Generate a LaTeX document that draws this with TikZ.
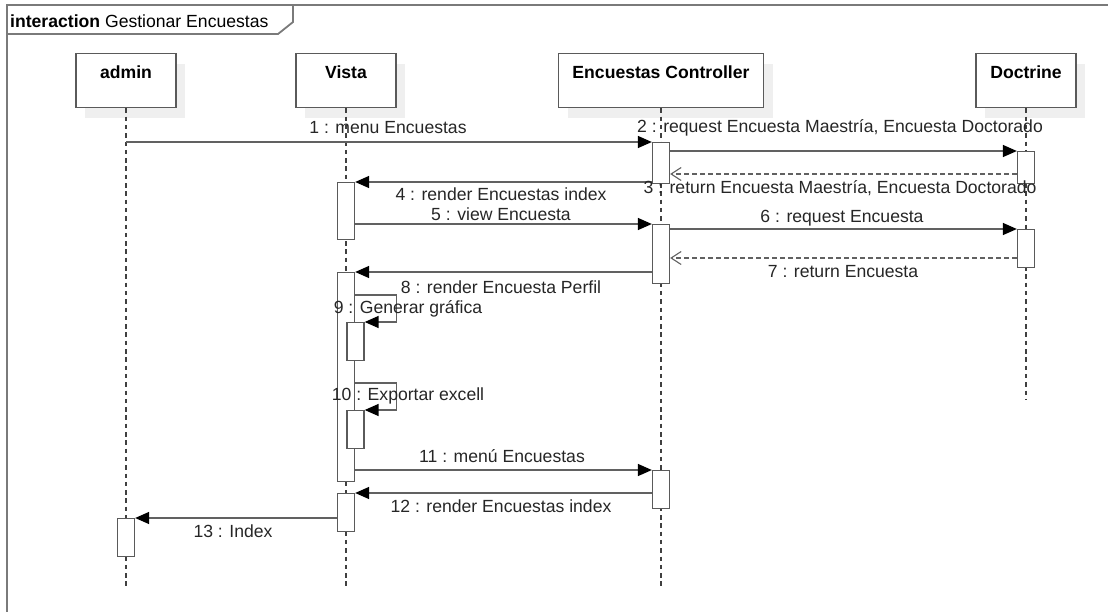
\documentclass[tikz,border=0pt]{standalone}
\usepackage{fontspec}
\setmainfont{Liberation Sans}
\usetikzlibrary{arrows.meta,shadows,calc}

\definecolor{framegray}{HTML}{7A7A7A}
\definecolor{boxgray}{HTML}{5A5A5A}
\definecolor{msggray}{HTML}{616161}
\definecolor{txtgray}{HTML}{262626}
\definecolor{shadowgray}{HTML}{EFEFEF}

\tikzset{
  frameline/.style={draw=framegray, line width=1.8pt},
  head/.style={draw=boxgray, fill=white, line width=1.3pt, anchor=north,
    minimum height=54pt, inner xsep=0pt, inner ysep=7pt,
    text height=18pt, text depth=22pt, font=\fontsize{17.6}{20}\selectfont\bfseries,
    drop shadow={shadow xshift=9pt, shadow yshift=-10pt, fill=shadowgray, opacity=1}},
  lifeline/.style={draw=black!75, line width=1.4pt, dash pattern=on 4.5pt off 3.8pt},
  act/.style={draw=boxgray, fill=white, line width=1.3pt, anchor=north,
    minimum width=17pt, inner sep=0pt},
  msg/.style={draw=msggray, line width=1.4pt,
    -{Triangle[length=14pt, width=12pt, color=black]}},
  ret/.style={draw=msggray, line width=1.3pt, dash pattern=on 4.5pt off 3.5pt,
    -{Straight Barb[length=10pt, width=13pt, line width=1.1pt]}},
  lbl/.style={anchor=base, inner sep=0pt, text=txtgray,
    font=\fontsize{17.6}{20}\selectfont}
}

\begin{document}
\begin{tikzpicture}[x=1pt, y=-1pt]
  \useasboundingbox (0,0) rectangle (1108,611);

  % interaction frame with its name tab
  \draw[frameline] (1125,5) -- (7,5) -- (7,625);
  \draw[frameline] (7,34) -- (278,34) -- (293,22) -- (293,5);
  \node[anchor=base west, inner sep=0pt, text=black,
        font=\fontsize{17.6}{20}\selectfont] (title) at (10,27)
        {\textbf{interaction} Gestionar Encuestas};

  % lifeline heads
  \node[head, minimum width=100pt] (admin) at (126,53) {admin};
  \node[head, minimum width=100pt] (vista) at (346,53) {Vista};
  \node[head, minimum width=205pt] (ctrl)  at (661,53) {Encuestas Controller};
  \node[head, minimum width=100pt] (doct)  at (1026,53) {Doctrine};

  % lifelines
  \coordinate (adminEnd) at (126,588);
  \coordinate (vistaEnd) at (346,588);
  \coordinate (ctrlEnd)  at (661,588);
  \coordinate (doctEnd)  at (1026,400);
  \draw[lifeline] (admin.south) -- (adminEnd);
  \draw[lifeline] (vista.south) -- (vistaEnd);
  \draw[lifeline] (ctrl.south)  -- (ctrlEnd);
  \draw[lifeline] (doct.south)  -- (doctEnd);

  % activation bars
  \node[act, minimum height=41pt]  (c1) at (661,142) {};
  \node[act, minimum height=32pt]  (d1) at (1026,151) {};
  \node[act, minimum height=57pt]  (v1) at (346,182) {};
  \node[act, minimum height=59pt]  (c2) at (661,224) {};
  \node[act, minimum height=38pt]  (d2) at (1026,229) {};
  \node[act, minimum height=209pt] (v2) at (346,272) {};
  \node[act, minimum height=38pt]  (n1) at (355.5,322) {};
  \node[act, minimum height=38pt]  (n2) at (355.5,410) {};
  \node[act, minimum height=38pt]  (c3) at (661,470) {};
  \node[act, minimum height=38pt]  (v3) at (346,493) {};
  \node[act, minimum height=38pt]  (a1) at (126,518) {};

  % messages
  \draw[msg] (admin.south |- c1.north) -- (c1.north west);
  \draw[msg] (c1.east |- d1.north) -- (d1.north west);
  \coordinate (m3s) at ($(d1.north west)+(0,23)$);
  \draw[ret] (m3s) -- (m3s -| c1.east);
  \draw[msg] (c1.west |- v1.north) -- (v1.north east);
  \draw[msg] (v1.east |- c2.north) -- (c2.north west);
  \draw[msg] (c2.east |- d2.north) -- (d2.north west);
  \coordinate (m7s) at ($(d2.north west)+(0,29)$);
  \draw[ret] (m7s) -- (m7s -| c2.east);
  \draw[msg] (c2.west |- v2.north) -- (v2.north east);
  \coordinate (m9s) at ($(v2.north east)+(0,23)$);
  \draw[msg] (m9s) -- ++(41.5,0) |- (n1.north east);
  \coordinate (m10s) at ($(v2.north east)+(0,111)$);
  \draw[msg] (m10s) -- ++(41.5,0) |- (n2.north east);
  \draw[msg] (v2.east |- c3.north) -- (c3.north west);
  \draw[msg] (c3.west |- v3.north) -- (v3.north east);
  \draw[msg] (v3.west |- a1.north) -- (a1.north east);

  % message labels
  \node[lbl] (l1)  at (388,133) {1 : menu Encuestas};
  \node[lbl] (l2)  at (840,132) {2 : request Encuesta Maestría, Encuesta Doctorado};
  \node[lbl] (l3)  at (840,193) {3 : return Encuesta Maestría, Encuesta Doctorado};
  \node[lbl] (l4)  at (501,200) {4 : render Encuestas index};
  \node[lbl] (l5)  at (501,220) {5 : view Encuesta};
  \node[lbl] (l6)  at (842,222) {6 : request Encuesta};
  \node[lbl] (l7)  at (843,277) {7 : return Encuesta};
  \node[lbl] (l8)  at (501,293) {8 : render Encuesta Perfil};
  \node[lbl] (l9)  at (408,313) {9 : Generar gráfica};
  \node[lbl] (l10) at (408,400) {10 : Exportar excell};
  \node[lbl] (l11) at (502,462) {11 : menú Encuestas};
  \node[lbl] (l12) at (501,512) {12 : render Encuestas index};
  \node[lbl] (l13) at (233,537) {13 : Index};
\end{tikzpicture}
\end{document}
